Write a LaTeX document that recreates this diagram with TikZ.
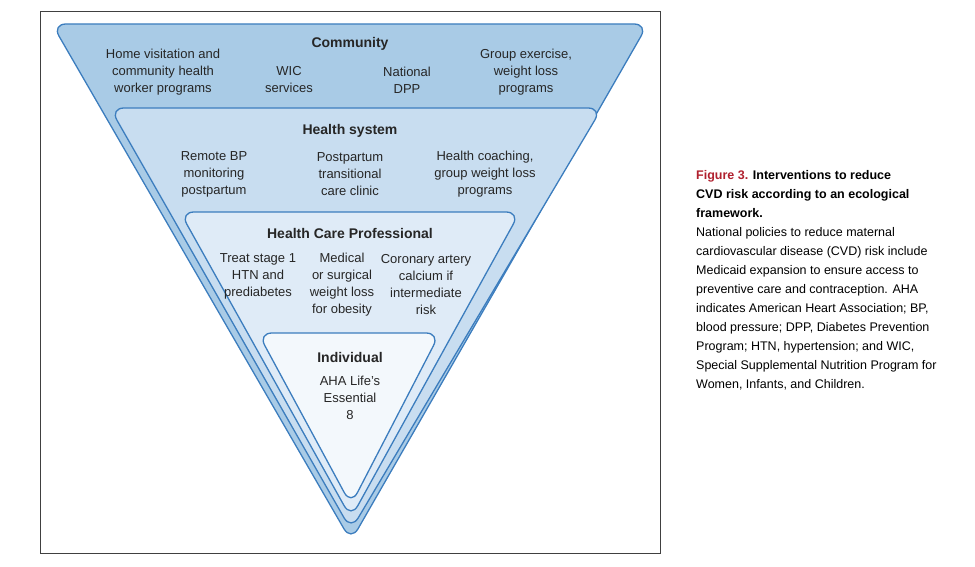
\documentclass[tikz,border=0pt]{standalone}
\usepackage{fontspec}
\setmainfont{Liberation Sans}
\usepackage{tikz}
\usetikzlibrary{positioning}
\definecolor{edgeblue}{HTML}{3C7DBE}
\definecolor{layerA}{HTML}{A9CBE6}
\definecolor{layerB}{HTML}{C8DDF0}
\definecolor{layerC}{HTML}{DFEBF7}
\definecolor{layerD}{HTML}{F3F8FC}
\definecolor{figred}{HTML}{B0202E}
\tikzset{
  layer/.style={draw=edgeblue, line width=1.3pt, rounded corners=14pt},
  head/.style={font=\fontsize{14}{17}\selectfont\bfseries, text=black!85},
  item/.style={align=center, font=\fontsize{13}{17}\selectfont, text=black!85, inner sep=0pt}
}
\begin{document}
\begin{tikzpicture}[x=1pt,y=-1pt]
\useasboundingbox (0,0) rectangle (975,567);
\draw[black!75, line width=1pt] (40,12) rectangle (660,553);
% nested layers
\draw[layer, fill=layerA] (52,24) -- (648,24) -- (351,541) -- cycle;
\draw[layer, fill=layerB] (110,108) -- (602,108) -- (351,530) -- cycle;
\draw[layer, fill=layerC] (180,212) -- (520,212) -- (351,518) -- cycle;
\draw[layer, fill=layerD] (258,333) -- (440,333) -- (351,505) -- cycle;
% community
\node[head] (comm) at (350,44) {Community};
\node[item] (home) at (163,72) {Home visitation and\\community health\\worker programs};
\node[item] (wic) at (289,80) {WIC\\services};
\node[item] (dpp) at (407,80) {National\\DPP};
\node[item] (exer) at (526,72) {Group exercise,\\weight loss\\programs};
% health system
\node[head] (hsys) at (350,131) {Health system};
\node[item] (bp) at (214,174) {Remote BP\\monitoring\\postpartum};
\node[item] (post) at (350,174) {Postpartum\\transitional\\care clinic};
\node[item] (coach) at (485,174) {Health coaching,\\group weight loss\\programs};
% health care professional
\node[head] (hcp) at (350,233) {Health Care Professional};
\node[item] (htn) at (258,276) {Treat stage 1\\HTN and\\prediabetes};
\node[item] (med) at (342,285) {Medical\\or surgical\\weight loss\\for obesity};
\node[item] (cac) at (426,285) {Coronary artery\\calcium if\\intermediate\\risk};
% individual
\node[head] (indiv) at (350,357) {Individual};
\node[item] (aha) at (350,398) {AHA Life's\\Essential\\8};
% caption
\node[anchor=north west, align=left, inner sep=0pt, font=\fontsize{12.5}{19}\selectfont] (cap) at (696,170)
{{\bfseries\textcolor{figred}{Figure 3.} Interventions to reduce}\\
{\bfseries CVD risk according to an ecological}\\
{\bfseries framework.}\\
National policies to reduce maternal\\
cardiovascular disease (CVD) risk include\\
Medicaid expansion to ensure access to\\
preventive care and contraception. AHA\\
indicates American Heart Association; BP,\\
blood pressure; DPP, Diabetes Prevention\\
Program; HTN, hypertension; and WIC,\\
Special Supplemental Nutrition Program for\\
Women, Infants, and Children.};
\end{tikzpicture}
\end{document}
